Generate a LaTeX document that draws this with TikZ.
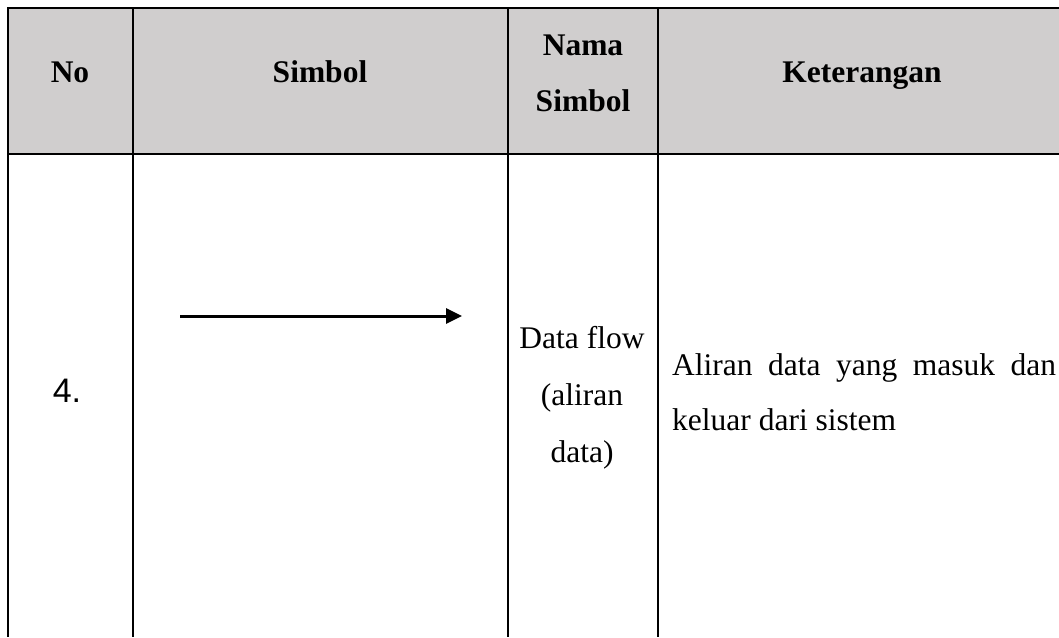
\documentclass[tikz,border=0pt]{standalone}
\usepackage{fontspec}
\setmainfont{Liberation Serif}
\newfontfamily\arialfont{Liberation Sans}
\usetikzlibrary{arrows.meta}
\definecolor{hdrgray}{RGB}{208,206,206}
\tikzset{
  txt/.style={anchor=base,inner sep=0pt,font=\fontsize{31.5}{57}\selectfont},
  hdr/.style={txt,font=\fontsize{31.5}{57}\selectfont\bfseries},
  grid/.style={line width=1.9pt,black},
  rule/.style={line width=2.4pt,black},
  flow/.style={line width=3pt,-{Triangle[length=16pt,width=15pt]}}
}
\begin{document}
\begin{tikzpicture}[x=1pt,y=-1pt]
\useasboundingbox (0,0) rectangle (1059,637);
\fill[hdrgray] (8,8) rectangle (1059,154);
% grid lines
\draw[grid] (8,8) -- (8,637);
\draw[grid] (133,8) -- (133,637);
\draw[grid] (508,8) -- (508,637);
\draw[grid] (658,8) -- (658,637);
\draw[rule] (7,8) -- (1059,8);
\draw[rule] (7,154) -- (1059,154);
% header
\node[hdr] (hno) at (70,82) {No};
\node[hdr] (hsim) at (320,82) {Simbol};
\node[hdr] (hnama1) at (583,55) {Nama};
\node[hdr] (hnama2) at (583,111) {Simbol};
\node[hdr] (hket) at (862,82) {Keterangan};
% row
\node[txt,font=\fontsize{34}{57}\selectfont\arialfont] (no4) at (67,402) {4.};
\coordinate (a1) at (180,316);
\coordinate (a2) at (462,316);
\draw[flow] (a1) -- (a2);
\node[txt] (n1) at (582,348) {Data flow};
\node[txt] (n2) at (582,405) {(aliran};
\node[txt] (n3) at (582,462) {data)};
\node[txt,anchor=base west] (k1) at (672,375) {\makebox[384pt][s]{Aliran data yang masuk dan}};
\node[txt,anchor=base west] (k2) at (672,430) {keluar dari sistem};
\end{tikzpicture}
\end{document}
